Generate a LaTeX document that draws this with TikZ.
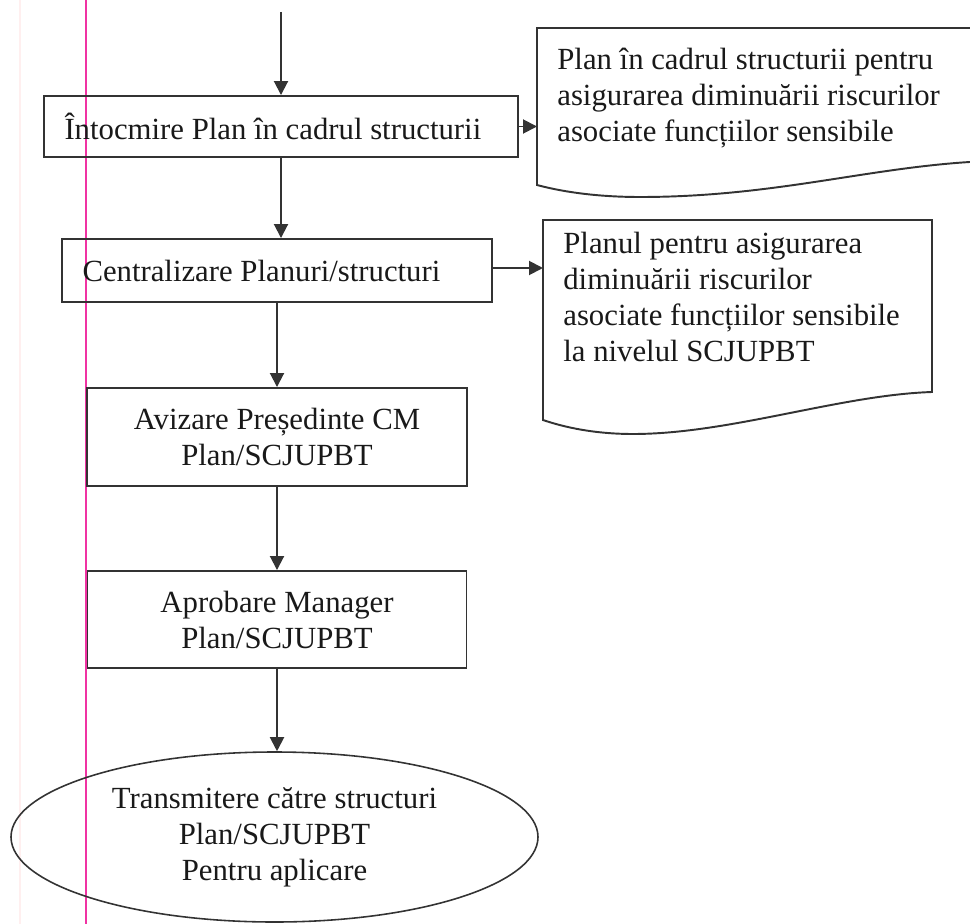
\documentclass[tikz,border=0pt]{standalone}
\usepackage{fontspec}
\setmainfont{Liberation Serif}
\usepackage{tikz}
\usetikzlibrary{arrows.meta}
\usetikzlibrary{shapes.geometric}

\tikzset{
  box/.style={draw=black!80, line width=1.1pt, inner sep=0pt, align=center},
  leftbox/.style={box, align=flush left, inner xsep=0.41cm},
  doc/.style={draw=black!80, line width=1.1pt},
  flow/.style={draw=black!80, line width=1.1pt, -{Triangle[length=2.8mm,width=2.8mm]}},
}

\begin{document}
\begin{tikzpicture}[font=\fontsize{17.5}{20.5}\selectfont, text=black!90]
        \useasboundingbox (0,0) rectangle (19.4,-18.48);

        % margin lines of the scanned page
        \draw[pink!25, line width=0.6pt] (0.4,0) -- (0.4,-18.48);
        \draw[magenta!80, line width=0.7pt] (1.72,0) -- (1.72,-18.48);

        \coordinate (start) at (5.62,-0.24);
        \node[leftbox, text width=8.66cm, minimum height=1.22cm] (b1) at (5.62,-2.53)
          {Întocmire Plan în cadrul structurii};
        \node[leftbox, text width=7.78cm, minimum height=1.26cm] (b2) at (5.54,-5.41)
          {Centralizare Planuri/structuri};
        \node[box, minimum width=7.6cm, minimum height=1.96cm] (b3) at (5.54,-8.74)
          {Avizare Președinte CM\\Plan/SCJUPBT};
        \node[box, minimum width=7.58cm, minimum height=1.94cm] (b4) at (5.54,-12.39)
          {Aprobare Manager\\Plan/SCJUPBT};
        \node[box, ellipse, minimum width=10.54cm, minimum height=3.4cm, line width=0.9pt] (e) at (5.49,-16.74)
          {Transmitere către structuri\\Plan/SCJUPBT\\Pentru aplicare};

        % documents
        \draw[doc] (10.74,-0.56) -- (19.8,-0.56) -- (19.8,-3.22)
          .. controls (17.5,-3.3) and (15.6,-3.94) .. (12.8,-3.94)
          .. controls (12.0,-3.94) and (11.3,-3.85) .. (10.74,-3.70) -- cycle;
        \node[inner sep=0pt, anchor=north west, align=left] (d1txt) at (11.14,-0.96)
          {Plan în cadrul structurii pentru\\asigurarea diminuării riscurilor\\asociate funcțiilor sensibile};
        \coordinate (d1) at (10.74,-2.53);

        \draw[doc] (10.86,-4.4) -- (18.64,-4.4) -- (18.64,-7.84)
          .. controls (16.8,-7.9) and (14.6,-8.68) .. (12.66,-8.68)
          .. controls (11.9,-8.68) and (11.3,-8.55) .. (10.86,-8.40) -- cycle;
        \node[inner sep=0pt, anchor=north west, align=left] (d2txt) at (11.26,-4.63)
          {Planul pentru asigurarea\\diminuării riscurilor\\asociate funcțiilor sensibile\\la nivelul SCJUPBT};
        \coordinate (d2) at (10.86,-5.36);

        \draw[flow] (start) -- (b1);
        \draw[flow] (b1.south) -- (b1.south |- b2.north);
        \draw[flow] (b2) -- (b3);
        \draw[flow] (b3) -- (b4);
        \draw[flow] (b4.south) -- (b4.south |- e.north);
        \draw[flow] (b1.east) -- (d1);
        \draw[flow] (b2.east |- d2) -- (d2);
      \end{tikzpicture}
\end{document}
